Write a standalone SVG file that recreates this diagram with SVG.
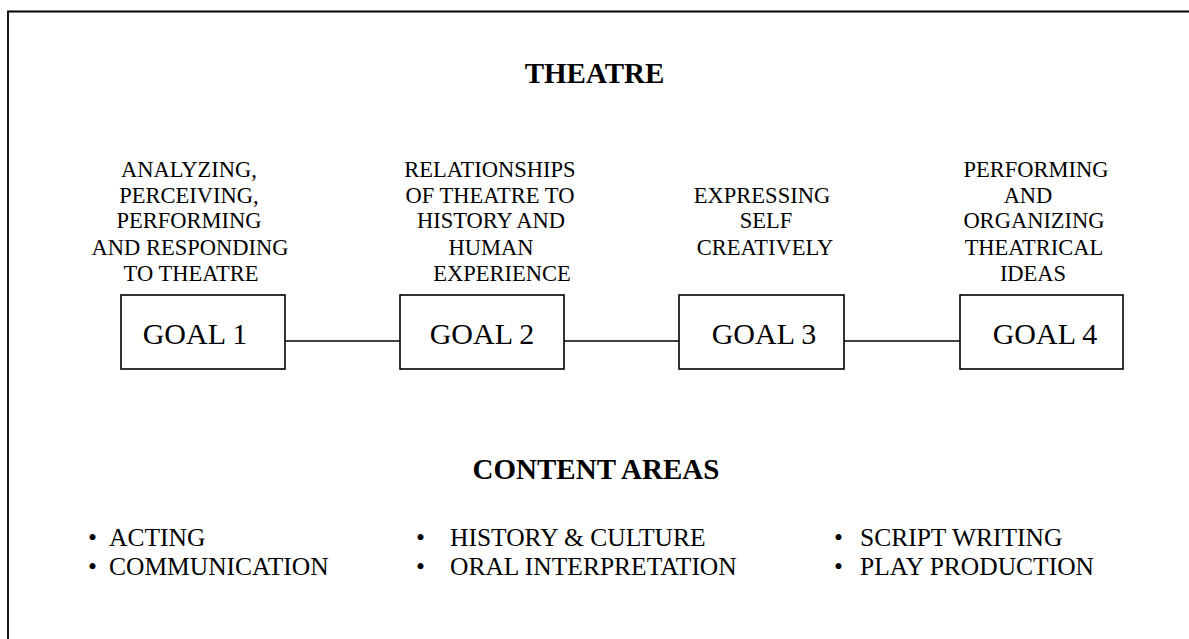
<svg xmlns="http://www.w3.org/2000/svg" width="1189" height="639" viewBox="0 0 1189 639">
<style>
.t{font-family:"Liberation Serif","Times New Roman",serif;fill:#000}
.title{font-size:29px;font-weight:bold;text-anchor:middle}
.lbl{font-size:22.5px;text-anchor:middle}
.goal{font-size:30px;text-anchor:middle}
.item{font-size:25.5px}
.box{fill:#fff;stroke:#000;stroke-width:1.6}
.conn{stroke:#000;stroke-width:1.4;fill:none}
.frame{stroke:#000;stroke-width:1.8;fill:none}
</style>
<rect width="1189" height="639" fill="#fff"/>
<g id="frame">
<path class="frame" d="M8,639 L8,11.5 L1189,11.5"/>
</g>
<g id="title"><text class="t title" x="594.5" y="83">THEATRE</text></g>
<g id="connectors">
<line class="conn" x1="285" y1="341" x2="400" y2="341"/>
<line class="conn" x1="564" y1="341" x2="679" y2="341"/>
<line class="conn" x1="844" y1="341" x2="960" y2="341"/>
</g>
<g id="goal1">
<text class="t lbl"><tspan x="189" y="177">ANALYZING,</tspan><tspan x="189" y="203">PERCEIVING,</tspan><tspan x="189" y="228">PERFORMING</tspan><tspan x="190" y="255">AND RESPONDING</tspan><tspan x="191" y="281">TO THEATRE</tspan></text>
<rect class="box" x="121" y="295" width="164" height="74"/>
<text class="t goal" x="195" y="344">GOAL 1</text>
</g>
<g id="goal2">
<text class="t lbl"><tspan x="490" y="177">RELATIONSHIPS</tspan><tspan x="490" y="203">OF THEATRE TO</tspan><tspan x="491" y="228">HISTORY AND</tspan><tspan x="491" y="255">HUMAN</tspan><tspan x="502" y="281">EXPERIENCE</tspan></text>
<rect class="box" x="400" y="295" width="164" height="74"/>
<text class="t goal" x="482" y="344">GOAL 2</text>
</g>
<g id="goal3">
<text class="t lbl"><tspan x="762" y="203">EXPRESSING</tspan><tspan x="766" y="228">SELF</tspan><tspan x="765" y="255">CREATIVELY</tspan></text>
<rect class="box" x="679" y="295" width="165" height="74"/>
<text class="t goal" x="764" y="344">GOAL 3</text>
</g>
<g id="goal4">
<text class="t lbl"><tspan x="1036" y="177">PERFORMING</tspan><tspan x="1028" y="203">AND</tspan><tspan x="1034" y="228">ORGANIZING</tspan><tspan x="1034" y="255">THEATRICAL</tspan><tspan x="1033" y="281">IDEAS</tspan></text>
<rect class="box" x="960" y="295" width="163" height="74"/>
<text class="t goal" x="1045" y="344">GOAL 4</text>
</g>
<g id="content-areas">
<text class="t title" x="596" y="479">CONTENT AREAS</text>
</g>
<g id="col1">
<text class="t item"><tspan x="88" y="546">•</tspan><tspan x="109" y="546">ACTING</tspan><tspan x="88" y="575">•</tspan><tspan x="109" y="575">COMMUNICATION</tspan></text>
</g>
<g id="col2">
<text class="t item"><tspan x="416" y="546">•</tspan><tspan x="450" y="546">HISTORY &amp; CULTURE</tspan><tspan x="416" y="575">•</tspan><tspan x="450" y="575">ORAL INTERPRETATION</tspan></text>
</g>
<g id="col3">
<text class="t item"><tspan x="834" y="546">•</tspan><tspan x="860" y="546">SCRIPT WRITING</tspan><tspan x="834" y="575">•</tspan><tspan x="860" y="575">PLAY PRODUCTION</tspan></text>
</g>
</svg>
